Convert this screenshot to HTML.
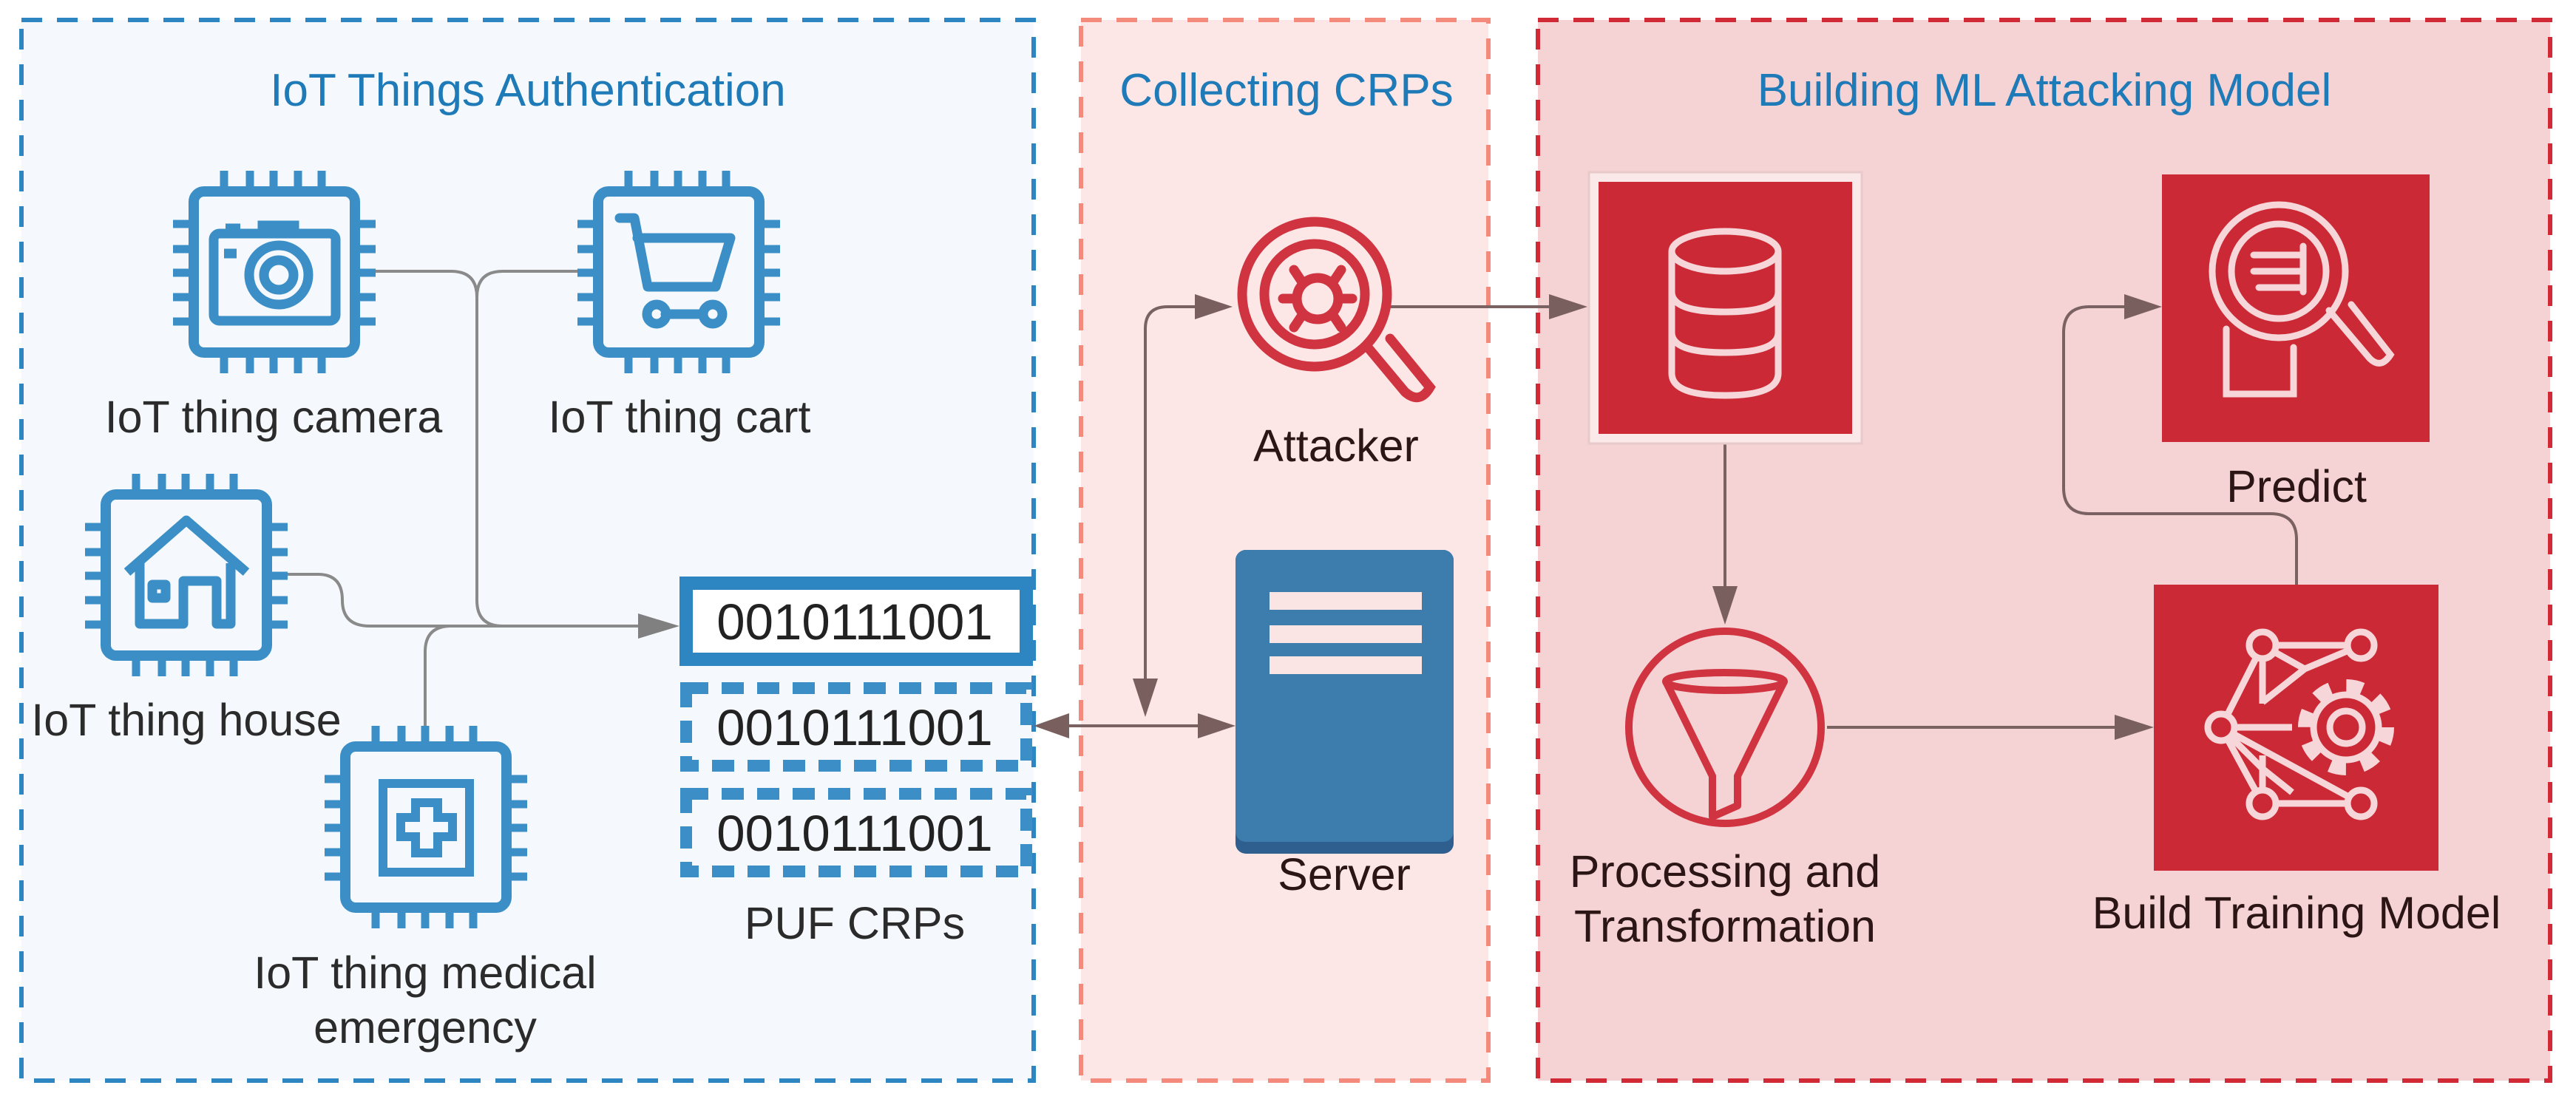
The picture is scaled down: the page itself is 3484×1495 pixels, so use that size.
<!DOCTYPE html>
<html><head><meta charset="utf-8"><style>
html,body{margin:0;padding:0;background:#fff;}
svg{display:block;}
text{font-family:"Liberation Sans",sans-serif;}
</style></head><body>
<svg width="3484" height="1495" viewBox="0 0 3484 1495" xmlns="http://www.w3.org/2000/svg">
<defs>
<g id="chip" fill="none" stroke="#3b8fc6" stroke-width="14">
  <rect x="0" y="0" width="218" height="218" rx="14"/>
  <g stroke-width="11">
    <path d="M41 0V-28M76 0V-28M108 0V-28M141 0V-28M173 0V-28"/>
    <path d="M41 218V246M76 218V246M108 218V246M141 218V246M173 218V246"/>
    <path d="M0 44H-28M0 78H-28M0 110H-28M0 143H-28M0 176H-28"/>
    <path d="M218 44H246M218 78H246M218 110H246M218 143H246M218 176H246"/>
  </g>
</g>
</defs>

<!-- Panels -->
<rect x="29" y="27" width="1369" height="1435" fill="#f5f9fd" stroke="#2d86c2" stroke-width="6" stroke-dasharray="28 20"/>
<rect x="1462" y="27" width="551" height="1435" fill="#fde7e6" stroke="#f48a7c" stroke-width="6" stroke-dasharray="28 20"/>
<rect x="2080" y="27" width="1369" height="1435" fill="#f5d3d5" stroke="#d12a36" stroke-width="6" stroke-dasharray="28 20"/>

<text x="714" y="143" font-size="62" fill="#1f7ab8" text-anchor="middle">IoT Things Authentication</text>
<text x="1740" y="143" font-size="62" fill="#1f7ab8" text-anchor="middle">Collecting CRPs</text>
<text x="2765" y="143" font-size="62" fill="#1f7ab8" text-anchor="middle">Building ML Attacking Model</text>

<!-- connectors left -->
<g fill="none" stroke="#8a8a8a" stroke-width="4">
  <path d="M507 367H610Q645 367 645 402V812Q645 847 680 847H870"/>
  <path d="M782 367H680Q645 367 645 402"/>
  <path d="M389 777H430Q463 777 463 812Q463 847 500 847H680"/>
  <path d="M575 982V882Q575 847 610 847"/>
</g>
<polygon points="919,847 863,830 863,864" fill="#808080"/>

<!-- chips -->
<use href="#chip" x="262" y="259"/>
<use href="#chip" x="809" y="259"/>
<use href="#chip" x="143" y="669"/>
<use href="#chip" x="467" y="1010"/>
<!-- camera -->
<g fill="none" stroke="#3b8fc6" stroke-width="13">
  <rect x="289" y="316" width="165" height="118" rx="8"/>
  <path d="M355 316V305H398V316"/>
  <circle cx="377" cy="372" r="40"/><circle cx="377" cy="372" r="20"/>
  <path d="M303 343H320M305 309H325"/>
</g>
<!-- cart -->
<g fill="none" stroke="#3b8fc6" stroke-width="13" stroke-linejoin="round" stroke-linecap="round">
  <path d="M838 295H858L876 388H968L988 322H862"/>
  <circle cx="888" cy="425" r="13"/><circle cx="964" cy="425" r="13"/>
  <path d="M900 425H951"/>
</g>
<!-- house -->
<g fill="none" stroke="#3b8fc6" stroke-width="13" stroke-linejoin="round">
  <path d="M172 774L252 704L333 774"/>
  <path d="M189 762V844H248V786H293V844H312V762"/>
  <rect x="206" y="791" width="18" height="18"/>
</g>
<!-- medical -->
<g fill="none" stroke="#3b8fc6" stroke-width="12">
  <rect x="518" y="1060" width="117" height="120"/>
  <path d="M562 1086H592V1106H612V1132H592V1154H562V1132H542V1106H562Z"/>
</g>

<text x="370" y="585" font-size="61" fill="#2b2b2b" text-anchor="middle">IoT thing camera</text>
<text x="919" y="585" font-size="61" fill="#2b2b2b" text-anchor="middle">IoT thing cart</text>
<text x="252" y="995" font-size="61" fill="#2b2b2b" text-anchor="middle">IoT thing house</text>
<text x="575" y="1337" font-size="61" fill="#2b2b2b" text-anchor="middle">IoT thing medical</text>
<text x="575" y="1411" font-size="61" fill="#2b2b2b" text-anchor="middle">emergency</text>

<!-- CRPs -->
<rect x="928" y="789" width="460" height="103" fill="#fff" stroke="#2d86c2" stroke-width="18"/>
<rect x="928" y="931" width="460" height="105" fill="none" stroke="#3b8fc6" stroke-width="16" stroke-dasharray="30 18"/>
<rect x="928" y="1074" width="460" height="105" fill="none" stroke="#3b8fc6" stroke-width="16" stroke-dasharray="30 18"/>
<text x="1156" y="865" font-size="69" fill="#222" text-anchor="middle">0010111001</text>
<text x="1156" y="1008" font-size="69" fill="#222" text-anchor="middle">0010111001</text>
<text x="1156" y="1151" font-size="69" fill="#222" text-anchor="middle">0010111001</text>
<text x="1156" y="1270" font-size="61" fill="#2b2b2b" text-anchor="middle">PUF CRPs</text>

<!-- collecting connectors -->
<g fill="none" stroke="#7a6262" stroke-width="4">
  <path d="M1440 982H1620"/>
  <path d="M1549 920V445Q1549 415 1579 415H1620"/>
  <path d="M1878 415H2095"/>
  <path d="M2333 600V795"/>
  <path d="M2471 984H2860"/>
  <path d="M3106 791V730Q3106 695 3071 695H2826Q2791 695 2791 660V450Q2791 415 2826 415H2875"/>
</g>
<g fill="#7a5f5f">
  <polygon points="1398,982 1446,965 1446,999"/>
  <polygon points="1671,982 1620,965 1620,999"/>
  <polygon points="1549,970 1532,918 1566,918"/>
  <polygon points="1667,415 1616,398 1616,432"/>
  <polygon points="2147,415 2095,398 2095,432"/>
  <polygon points="2333,845 2316,793 2350,793"/>
  <polygon points="2913,984 2860,967 2860,1001"/>
  <polygon points="2924,415 2873,398 2873,432"/>
</g>

<!-- attacker -->
<g fill="none" stroke="#d03440" stroke-width="13" stroke-linecap="round">
  <circle cx="1778" cy="398" r="98"/>
  <circle cx="1778" cy="398" r="68"/>
  <path d="M1850 470L1900 530Q1920 548 1934 524L1880 458"/>
  <circle cx="1782" cy="404" r="28"/>
  <path d="M1760 380L1750 365M1804 380L1814 365M1752 404H1735M1812 404H1829M1760 428L1750 443M1804 428L1814 443"/>
</g>
<text x="1807" y="624" font-size="61" fill="#2b1515" text-anchor="middle">Attacker</text>

<!-- server -->
<rect x="1671" y="744" width="295" height="411" rx="14" fill="#2e5f8e"/>
<rect x="1671" y="744" width="295" height="395" rx="14" fill="#3d7dae"/>
<rect x="1717" y="801" width="206" height="24" fill="#fbe4e4"/>
<rect x="1717" y="846" width="206" height="24" fill="#fbe4e4"/>
<rect x="1717" y="888" width="206" height="24" fill="#fbe4e4"/>
<text x="1818" y="1204" font-size="61" fill="#2b1515" text-anchor="middle">Server</text>

<!-- DB -->
<rect x="2149" y="233" width="369" height="367" fill="#fbe8e8" stroke="#e8caca" stroke-width="3"/>
<rect x="2162" y="246" width="343" height="341" fill="#cc2936"/>
<g fill="none" stroke="#f6d6d8" stroke-width="9">
  <ellipse cx="2333" cy="340" rx="72" ry="27"/>
  <path d="M2261 340V505Q2261 535 2333 535Q2405 535 2405 505V340"/>
  <path d="M2261 395Q2261 422 2333 422Q2405 422 2405 395"/>
  <path d="M2261 450Q2261 477 2333 477Q2405 477 2405 450"/>
</g>

<!-- funnel -->
<circle cx="2333" cy="984" r="130" fill="none" stroke="#d03440" stroke-width="10"/>
<g fill="none" stroke="#d03440" stroke-width="10" stroke-linejoin="round">
  <ellipse cx="2333" cy="922" rx="80" ry="12"/>
  <path d="M2253 922L2316 1050V1105L2350 1090V1050L2413 922"/>
</g>
<text x="2333" y="1200" font-size="61" fill="#2b1515" text-anchor="middle">Processing and</text>
<text x="2333" y="1274" font-size="61" fill="#2b1515" text-anchor="middle">Transformation</text>

<!-- predict -->
<rect x="2924" y="236" width="362" height="362" fill="#cc2936"/>
<g fill="none" stroke="#f6d6d8" stroke-width="9" stroke-linecap="round">
  <path d="M3011 445V533H3102V470"/>
  <circle cx="3082" cy="367" r="90" fill="#cc2936"/>
  <circle cx="3082" cy="367" r="64"/>
  <path d="M3048 345H3115M3048 367H3115M3055 389H3115M3115 333V395"/>
  <path d="M3150 420L3205 485Q3220 500 3233 480L3180 412"/>
</g>
<text x="3106" y="679" font-size="61" fill="#2b1515" text-anchor="middle">Predict</text>

<!-- training -->
<rect x="2913" y="791" width="385" height="387" fill="#cc2936"/>
<g fill="none" stroke="#f6d6d8" stroke-width="9">
  <path d="M3060 873H3193M3060 873L3004 984M3060 873V952M3060 873L3117 905M3193 873L3117 905L3060 950M3004 984H3100M3004 984L3060 1040M3004 984L3060 1087M3004 984L3193 1087M3060 1087H3193M3060 1022V1087M3060 1040L3100 1072"/>
  <circle cx="3060" cy="873" r="18" fill="#cc2936"/>
  <circle cx="3193" cy="873" r="18" fill="#cc2936"/>
  <circle cx="3004" cy="984" r="18" fill="#cc2936"/>
  <circle cx="3060" cy="1087" r="18" fill="#cc2936"/>
  <circle cx="3193" cy="1087" r="18" fill="#cc2936"/>
  <circle cx="3173" cy="984" r="56" fill="none" stroke="#f6d6d8" stroke-width="18" stroke-dasharray="22 22"/>
  <circle cx="3173" cy="984" r="44" fill="#cc2936"/>
  <circle cx="3173" cy="984" r="22"/>
</g>
<text x="3106" y="1256" font-size="61" fill="#2b1515" text-anchor="middle">Build Training Model</text>
</svg>
</body></html>
